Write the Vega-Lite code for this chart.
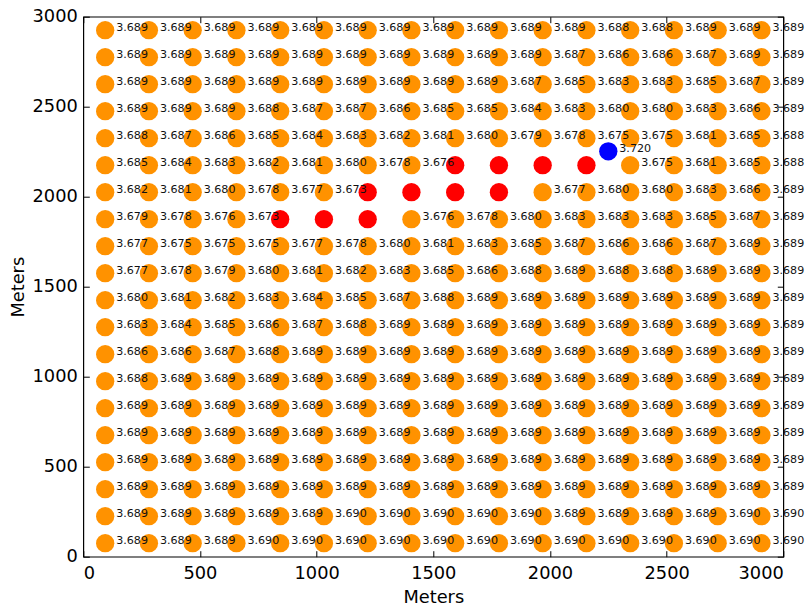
{
"$schema": "https://vega.github.io/schema/vega-lite/v6.json",
"width": 700, "height": 540,
"autosize": {"type": "none"},
"padding": {"left": 83.3, "top": 16.7, "right": 22.7, "bottom": 50.3},
"background": "white",
"config": {
  "view": {"stroke": "#000", "strokeWidth": 1.2},
  "axis": {"labelFont": "DejaVu Sans", "labelFontSize": 17.8, "labelColor": "#000", "tickColor": "#000", "tickSize": -6, "tickWidth": 1, "domain": false, "grid": false, "titleFont": "DejaVu Sans", "titleFontSize": 17.8, "titleFontWeight": "normal", "titleColor": "#000", "format": "d"}
},
"data": {"values": [
{"x":93.75,"y":75,"v":3.689,"c":"o"},{"x":281.25,"y":75,"v":3.689,"c":"o"},{"x":468.75,"y":75,"v":3.689,"c":"o"},{"x":656.25,"y":75,"v":3.690,"c":"o"},{"x":843.75,"y":75,"v":3.690,"c":"o"},{"x":1031.25,"y":75,"v":3.690,"c":"o"},{"x":1218.75,"y":75,"v":3.690,"c":"o"},{"x":1406.25,"y":75,"v":3.690,"c":"o"},{"x":1593.75,"y":75,"v":3.690,"c":"o"},{"x":1781.25,"y":75,"v":3.690,"c":"o"},{"x":1968.75,"y":75,"v":3.690,"c":"o"},{"x":2156.25,"y":75,"v":3.690,"c":"o"},{"x":2343.75,"y":75,"v":3.690,"c":"o"},{"x":2531.25,"y":75,"v":3.690,"c":"o"},{"x":2718.75,"y":75,"v":3.690,"c":"o"},{"x":2906.25,"y":75,"v":3.690,"c":"o"},
{"x":93.75,"y":225,"v":3.689,"c":"o"},{"x":281.25,"y":225,"v":3.689,"c":"o"},{"x":468.75,"y":225,"v":3.689,"c":"o"},{"x":656.25,"y":225,"v":3.689,"c":"o"},{"x":843.75,"y":225,"v":3.689,"c":"o"},{"x":1031.25,"y":225,"v":3.690,"c":"o"},{"x":1218.75,"y":225,"v":3.690,"c":"o"},{"x":1406.25,"y":225,"v":3.690,"c":"o"},{"x":1593.75,"y":225,"v":3.690,"c":"o"},{"x":1781.25,"y":225,"v":3.690,"c":"o"},{"x":1968.75,"y":225,"v":3.689,"c":"o"},{"x":2156.25,"y":225,"v":3.689,"c":"o"},{"x":2343.75,"y":225,"v":3.689,"c":"o"},{"x":2531.25,"y":225,"v":3.689,"c":"o"},{"x":2718.75,"y":225,"v":3.690,"c":"o"},{"x":2906.25,"y":225,"v":3.690,"c":"o"},
{"x":93.75,"y":375,"v":3.689,"c":"o"},{"x":281.25,"y":375,"v":3.689,"c":"o"},{"x":468.75,"y":375,"v":3.689,"c":"o"},{"x":656.25,"y":375,"v":3.689,"c":"o"},{"x":843.75,"y":375,"v":3.689,"c":"o"},{"x":1031.25,"y":375,"v":3.689,"c":"o"},{"x":1218.75,"y":375,"v":3.689,"c":"o"},{"x":1406.25,"y":375,"v":3.689,"c":"o"},{"x":1593.75,"y":375,"v":3.689,"c":"o"},{"x":1781.25,"y":375,"v":3.689,"c":"o"},{"x":1968.75,"y":375,"v":3.689,"c":"o"},{"x":2156.25,"y":375,"v":3.689,"c":"o"},{"x":2343.75,"y":375,"v":3.689,"c":"o"},{"x":2531.25,"y":375,"v":3.689,"c":"o"},{"x":2718.75,"y":375,"v":3.689,"c":"o"},{"x":2906.25,"y":375,"v":3.689,"c":"o"},
{"x":93.75,"y":525,"v":3.689,"c":"o"},{"x":281.25,"y":525,"v":3.689,"c":"o"},{"x":468.75,"y":525,"v":3.689,"c":"o"},{"x":656.25,"y":525,"v":3.689,"c":"o"},{"x":843.75,"y":525,"v":3.689,"c":"o"},{"x":1031.25,"y":525,"v":3.689,"c":"o"},{"x":1218.75,"y":525,"v":3.689,"c":"o"},{"x":1406.25,"y":525,"v":3.689,"c":"o"},{"x":1593.75,"y":525,"v":3.689,"c":"o"},{"x":1781.25,"y":525,"v":3.689,"c":"o"},{"x":1968.75,"y":525,"v":3.689,"c":"o"},{"x":2156.25,"y":525,"v":3.689,"c":"o"},{"x":2343.75,"y":525,"v":3.689,"c":"o"},{"x":2531.25,"y":525,"v":3.689,"c":"o"},{"x":2718.75,"y":525,"v":3.689,"c":"o"},{"x":2906.25,"y":525,"v":3.689,"c":"o"},
{"x":93.75,"y":675,"v":3.689,"c":"o"},{"x":281.25,"y":675,"v":3.689,"c":"o"},{"x":468.75,"y":675,"v":3.689,"c":"o"},{"x":656.25,"y":675,"v":3.689,"c":"o"},{"x":843.75,"y":675,"v":3.689,"c":"o"},{"x":1031.25,"y":675,"v":3.689,"c":"o"},{"x":1218.75,"y":675,"v":3.689,"c":"o"},{"x":1406.25,"y":675,"v":3.689,"c":"o"},{"x":1593.75,"y":675,"v":3.689,"c":"o"},{"x":1781.25,"y":675,"v":3.689,"c":"o"},{"x":1968.75,"y":675,"v":3.689,"c":"o"},{"x":2156.25,"y":675,"v":3.689,"c":"o"},{"x":2343.75,"y":675,"v":3.689,"c":"o"},{"x":2531.25,"y":675,"v":3.689,"c":"o"},{"x":2718.75,"y":675,"v":3.689,"c":"o"},{"x":2906.25,"y":675,"v":3.689,"c":"o"},
{"x":93.75,"y":825,"v":3.689,"c":"o"},{"x":281.25,"y":825,"v":3.689,"c":"o"},{"x":468.75,"y":825,"v":3.689,"c":"o"},{"x":656.25,"y":825,"v":3.689,"c":"o"},{"x":843.75,"y":825,"v":3.689,"c":"o"},{"x":1031.25,"y":825,"v":3.689,"c":"o"},{"x":1218.75,"y":825,"v":3.689,"c":"o"},{"x":1406.25,"y":825,"v":3.689,"c":"o"},{"x":1593.75,"y":825,"v":3.689,"c":"o"},{"x":1781.25,"y":825,"v":3.689,"c":"o"},{"x":1968.75,"y":825,"v":3.689,"c":"o"},{"x":2156.25,"y":825,"v":3.689,"c":"o"},{"x":2343.75,"y":825,"v":3.689,"c":"o"},{"x":2531.25,"y":825,"v":3.689,"c":"o"},{"x":2718.75,"y":825,"v":3.689,"c":"o"},{"x":2906.25,"y":825,"v":3.689,"c":"o"},
{"x":93.75,"y":975,"v":3.688,"c":"o"},{"x":281.25,"y":975,"v":3.689,"c":"o"},{"x":468.75,"y":975,"v":3.689,"c":"o"},{"x":656.25,"y":975,"v":3.689,"c":"o"},{"x":843.75,"y":975,"v":3.689,"c":"o"},{"x":1031.25,"y":975,"v":3.689,"c":"o"},{"x":1218.75,"y":975,"v":3.689,"c":"o"},{"x":1406.25,"y":975,"v":3.689,"c":"o"},{"x":1593.75,"y":975,"v":3.689,"c":"o"},{"x":1781.25,"y":975,"v":3.689,"c":"o"},{"x":1968.75,"y":975,"v":3.689,"c":"o"},{"x":2156.25,"y":975,"v":3.689,"c":"o"},{"x":2343.75,"y":975,"v":3.689,"c":"o"},{"x":2531.25,"y":975,"v":3.689,"c":"o"},{"x":2718.75,"y":975,"v":3.689,"c":"o"},{"x":2906.25,"y":975,"v":3.689,"c":"o"},
{"x":93.75,"y":1125,"v":3.686,"c":"o"},{"x":281.25,"y":1125,"v":3.686,"c":"o"},{"x":468.75,"y":1125,"v":3.687,"c":"o"},{"x":656.25,"y":1125,"v":3.688,"c":"o"},{"x":843.75,"y":1125,"v":3.689,"c":"o"},{"x":1031.25,"y":1125,"v":3.689,"c":"o"},{"x":1218.75,"y":1125,"v":3.689,"c":"o"},{"x":1406.25,"y":1125,"v":3.689,"c":"o"},{"x":1593.75,"y":1125,"v":3.689,"c":"o"},{"x":1781.25,"y":1125,"v":3.689,"c":"o"},{"x":1968.75,"y":1125,"v":3.689,"c":"o"},{"x":2156.25,"y":1125,"v":3.689,"c":"o"},{"x":2343.75,"y":1125,"v":3.689,"c":"o"},{"x":2531.25,"y":1125,"v":3.689,"c":"o"},{"x":2718.75,"y":1125,"v":3.689,"c":"o"},{"x":2906.25,"y":1125,"v":3.689,"c":"o"},
{"x":93.75,"y":1275,"v":3.683,"c":"o"},{"x":281.25,"y":1275,"v":3.684,"c":"o"},{"x":468.75,"y":1275,"v":3.685,"c":"o"},{"x":656.25,"y":1275,"v":3.686,"c":"o"},{"x":843.75,"y":1275,"v":3.687,"c":"o"},{"x":1031.25,"y":1275,"v":3.688,"c":"o"},{"x":1218.75,"y":1275,"v":3.689,"c":"o"},{"x":1406.25,"y":1275,"v":3.689,"c":"o"},{"x":1593.75,"y":1275,"v":3.689,"c":"o"},{"x":1781.25,"y":1275,"v":3.689,"c":"o"},{"x":1968.75,"y":1275,"v":3.689,"c":"o"},{"x":2156.25,"y":1275,"v":3.689,"c":"o"},{"x":2343.75,"y":1275,"v":3.689,"c":"o"},{"x":2531.25,"y":1275,"v":3.689,"c":"o"},{"x":2718.75,"y":1275,"v":3.689,"c":"o"},{"x":2906.25,"y":1275,"v":3.689,"c":"o"},
{"x":93.75,"y":1425,"v":3.680,"c":"o"},{"x":281.25,"y":1425,"v":3.681,"c":"o"},{"x":468.75,"y":1425,"v":3.682,"c":"o"},{"x":656.25,"y":1425,"v":3.683,"c":"o"},{"x":843.75,"y":1425,"v":3.684,"c":"o"},{"x":1031.25,"y":1425,"v":3.685,"c":"o"},{"x":1218.75,"y":1425,"v":3.687,"c":"o"},{"x":1406.25,"y":1425,"v":3.688,"c":"o"},{"x":1593.75,"y":1425,"v":3.689,"c":"o"},{"x":1781.25,"y":1425,"v":3.689,"c":"o"},{"x":1968.75,"y":1425,"v":3.689,"c":"o"},{"x":2156.25,"y":1425,"v":3.689,"c":"o"},{"x":2343.75,"y":1425,"v":3.689,"c":"o"},{"x":2531.25,"y":1425,"v":3.689,"c":"o"},{"x":2718.75,"y":1425,"v":3.689,"c":"o"},{"x":2906.25,"y":1425,"v":3.689,"c":"o"},
{"x":93.75,"y":1575,"v":3.677,"c":"o"},{"x":281.25,"y":1575,"v":3.678,"c":"o"},{"x":468.75,"y":1575,"v":3.679,"c":"o"},{"x":656.25,"y":1575,"v":3.680,"c":"o"},{"x":843.75,"y":1575,"v":3.681,"c":"o"},{"x":1031.25,"y":1575,"v":3.682,"c":"o"},{"x":1218.75,"y":1575,"v":3.683,"c":"o"},{"x":1406.25,"y":1575,"v":3.685,"c":"o"},{"x":1593.75,"y":1575,"v":3.686,"c":"o"},{"x":1781.25,"y":1575,"v":3.688,"c":"o"},{"x":1968.75,"y":1575,"v":3.689,"c":"o"},{"x":2156.25,"y":1575,"v":3.688,"c":"o"},{"x":2343.75,"y":1575,"v":3.688,"c":"o"},{"x":2531.25,"y":1575,"v":3.689,"c":"o"},{"x":2718.75,"y":1575,"v":3.689,"c":"o"},{"x":2906.25,"y":1575,"v":3.689,"c":"o"},
{"x":93.75,"y":1725,"v":3.677,"c":"o"},{"x":281.25,"y":1725,"v":3.675,"c":"o"},{"x":468.75,"y":1725,"v":3.675,"c":"o"},{"x":656.25,"y":1725,"v":3.675,"c":"o"},{"x":843.75,"y":1725,"v":3.677,"c":"o"},{"x":1031.25,"y":1725,"v":3.678,"c":"o"},{"x":1218.75,"y":1725,"v":3.680,"c":"o"},{"x":1406.25,"y":1725,"v":3.681,"c":"o"},{"x":1593.75,"y":1725,"v":3.683,"c":"o"},{"x":1781.25,"y":1725,"v":3.685,"c":"o"},{"x":1968.75,"y":1725,"v":3.687,"c":"o"},{"x":2156.25,"y":1725,"v":3.686,"c":"o"},{"x":2343.75,"y":1725,"v":3.686,"c":"o"},{"x":2531.25,"y":1725,"v":3.687,"c":"o"},{"x":2718.75,"y":1725,"v":3.689,"c":"o"},{"x":2906.25,"y":1725,"v":3.689,"c":"o"},
{"x":93.75,"y":1875,"v":3.679,"c":"o"},{"x":281.25,"y":1875,"v":3.678,"c":"o"},{"x":468.75,"y":1875,"v":3.676,"c":"o"},{"x":656.25,"y":1875,"v":3.673,"c":"o"},{"x":843.75,"y":1875,"v":null,"c":"r"},{"x":1031.25,"y":1875,"v":null,"c":"r"},{"x":1218.75,"y":1875,"v":null,"c":"r"},{"x":1406.25,"y":1875,"v":3.676,"c":"o"},{"x":1593.75,"y":1875,"v":3.678,"c":"o"},{"x":1781.25,"y":1875,"v":3.680,"c":"o"},{"x":1968.75,"y":1875,"v":3.683,"c":"o"},{"x":2156.25,"y":1875,"v":3.683,"c":"o"},{"x":2343.75,"y":1875,"v":3.683,"c":"o"},{"x":2531.25,"y":1875,"v":3.685,"c":"o"},{"x":2718.75,"y":1875,"v":3.687,"c":"o"},{"x":2906.25,"y":1875,"v":3.689,"c":"o"},
{"x":93.75,"y":2025,"v":3.682,"c":"o"},{"x":281.25,"y":2025,"v":3.681,"c":"o"},{"x":468.75,"y":2025,"v":3.680,"c":"o"},{"x":656.25,"y":2025,"v":3.678,"c":"o"},{"x":843.75,"y":2025,"v":3.677,"c":"o"},{"x":1031.25,"y":2025,"v":3.673,"c":"o"},{"x":1218.75,"y":2025,"v":null,"c":"r"},{"x":1406.25,"y":2025,"v":null,"c":"r"},{"x":1593.75,"y":2025,"v":null,"c":"r"},{"x":1781.25,"y":2025,"v":null,"c":"r"},{"x":1968.75,"y":2025,"v":3.677,"c":"o"},{"x":2156.25,"y":2025,"v":3.680,"c":"o"},{"x":2343.75,"y":2025,"v":3.680,"c":"o"},{"x":2531.25,"y":2025,"v":3.683,"c":"o"},{"x":2718.75,"y":2025,"v":3.686,"c":"o"},{"x":2906.25,"y":2025,"v":3.689,"c":"o"},
{"x":93.75,"y":2175,"v":3.685,"c":"o"},{"x":281.25,"y":2175,"v":3.684,"c":"o"},{"x":468.75,"y":2175,"v":3.683,"c":"o"},{"x":656.25,"y":2175,"v":3.682,"c":"o"},{"x":843.75,"y":2175,"v":3.681,"c":"o"},{"x":1031.25,"y":2175,"v":3.680,"c":"o"},{"x":1218.75,"y":2175,"v":3.678,"c":"o"},{"x":1406.25,"y":2175,"v":3.676,"c":"o"},{"x":1593.75,"y":2175,"v":null,"c":"r"},{"x":1781.25,"y":2175,"v":null,"c":"r"},{"x":1968.75,"y":2175,"v":null,"c":"r"},{"x":2156.25,"y":2175,"v":null,"c":"r"},{"x":2343.75,"y":2175,"v":3.675,"c":"o"},{"x":2531.25,"y":2175,"v":3.681,"c":"o"},{"x":2718.75,"y":2175,"v":3.685,"c":"o"},{"x":2906.25,"y":2175,"v":3.688,"c":"o"},
{"x":93.75,"y":2325,"v":3.688,"c":"o"},{"x":281.25,"y":2325,"v":3.687,"c":"o"},{"x":468.75,"y":2325,"v":3.686,"c":"o"},{"x":656.25,"y":2325,"v":3.685,"c":"o"},{"x":843.75,"y":2325,"v":3.684,"c":"o"},{"x":1031.25,"y":2325,"v":3.683,"c":"o"},{"x":1218.75,"y":2325,"v":3.682,"c":"o"},{"x":1406.25,"y":2325,"v":3.681,"c":"o"},{"x":1593.75,"y":2325,"v":3.680,"c":"o"},{"x":1781.25,"y":2325,"v":3.679,"c":"o"},{"x":1968.75,"y":2325,"v":3.678,"c":"o"},{"x":2156.25,"y":2325,"v":3.675,"c":"o"},{"x":2343.75,"y":2325,"v":3.675,"c":"o"},{"x":2531.25,"y":2325,"v":3.681,"c":"o"},{"x":2718.75,"y":2325,"v":3.685,"c":"o"},{"x":2906.25,"y":2325,"v":3.688,"c":"o"},
{"x":93.75,"y":2475,"v":3.689,"c":"o"},{"x":281.25,"y":2475,"v":3.689,"c":"o"},{"x":468.75,"y":2475,"v":3.689,"c":"o"},{"x":656.25,"y":2475,"v":3.688,"c":"o"},{"x":843.75,"y":2475,"v":3.687,"c":"o"},{"x":1031.25,"y":2475,"v":3.687,"c":"o"},{"x":1218.75,"y":2475,"v":3.686,"c":"o"},{"x":1406.25,"y":2475,"v":3.685,"c":"o"},{"x":1593.75,"y":2475,"v":3.685,"c":"o"},{"x":1781.25,"y":2475,"v":3.684,"c":"o"},{"x":1968.75,"y":2475,"v":3.683,"c":"o"},{"x":2156.25,"y":2475,"v":3.680,"c":"o"},{"x":2343.75,"y":2475,"v":3.680,"c":"o"},{"x":2531.25,"y":2475,"v":3.683,"c":"o"},{"x":2718.75,"y":2475,"v":3.686,"c":"o"},{"x":2906.25,"y":2475,"v":3.689,"c":"o"},
{"x":93.75,"y":2625,"v":3.689,"c":"o"},{"x":281.25,"y":2625,"v":3.689,"c":"o"},{"x":468.75,"y":2625,"v":3.689,"c":"o"},{"x":656.25,"y":2625,"v":3.689,"c":"o"},{"x":843.75,"y":2625,"v":3.689,"c":"o"},{"x":1031.25,"y":2625,"v":3.689,"c":"o"},{"x":1218.75,"y":2625,"v":3.689,"c":"o"},{"x":1406.25,"y":2625,"v":3.689,"c":"o"},{"x":1593.75,"y":2625,"v":3.689,"c":"o"},{"x":1781.25,"y":2625,"v":3.687,"c":"o"},{"x":1968.75,"y":2625,"v":3.685,"c":"o"},{"x":2156.25,"y":2625,"v":3.683,"c":"o"},{"x":2343.75,"y":2625,"v":3.683,"c":"o"},{"x":2531.25,"y":2625,"v":3.685,"c":"o"},{"x":2718.75,"y":2625,"v":3.687,"c":"o"},{"x":2906.25,"y":2625,"v":3.689,"c":"o"},
{"x":93.75,"y":2775,"v":3.689,"c":"o"},{"x":281.25,"y":2775,"v":3.689,"c":"o"},{"x":468.75,"y":2775,"v":3.689,"c":"o"},{"x":656.25,"y":2775,"v":3.689,"c":"o"},{"x":843.75,"y":2775,"v":3.689,"c":"o"},{"x":1031.25,"y":2775,"v":3.689,"c":"o"},{"x":1218.75,"y":2775,"v":3.689,"c":"o"},{"x":1406.25,"y":2775,"v":3.689,"c":"o"},{"x":1593.75,"y":2775,"v":3.689,"c":"o"},{"x":1781.25,"y":2775,"v":3.689,"c":"o"},{"x":1968.75,"y":2775,"v":3.687,"c":"o"},{"x":2156.25,"y":2775,"v":3.686,"c":"o"},{"x":2343.75,"y":2775,"v":3.686,"c":"o"},{"x":2531.25,"y":2775,"v":3.687,"c":"o"},{"x":2718.75,"y":2775,"v":3.689,"c":"o"},{"x":2906.25,"y":2775,"v":3.689,"c":"o"},
{"x":93.75,"y":2925,"v":3.689,"c":"o"},{"x":281.25,"y":2925,"v":3.689,"c":"o"},{"x":468.75,"y":2925,"v":3.689,"c":"o"},{"x":656.25,"y":2925,"v":3.689,"c":"o"},{"x":843.75,"y":2925,"v":3.689,"c":"o"},{"x":1031.25,"y":2925,"v":3.689,"c":"o"},{"x":1218.75,"y":2925,"v":3.689,"c":"o"},{"x":1406.25,"y":2925,"v":3.689,"c":"o"},{"x":1593.75,"y":2925,"v":3.689,"c":"o"},{"x":1781.25,"y":2925,"v":3.689,"c":"o"},{"x":1968.75,"y":2925,"v":3.689,"c":"o"},{"x":2156.25,"y":2925,"v":3.688,"c":"o"},{"x":2343.75,"y":2925,"v":3.688,"c":"o"},{"x":2531.25,"y":2925,"v":3.689,"c":"o"},{"x":2718.75,"y":2925,"v":3.689,"c":"o"},{"x":2906.25,"y":2925,"v":3.689,"c":"o"},
{"x":2250,"y":2252,"v":3.720,"c":"b"}
]},
"layer": [
  {
    "mark": {"type": "circle", "size": 336, "opacity": 1, "strokeWidth": 0},
    "encoding": {
      "x": {"field": "x", "type": "quantitative", "scale": {"domain": [0, 3000], "nice": false, "zero": false},
            "axis": {"orient": "bottom", "values": [0,500,1000,1500,2000,2500,3000], "labelPadding": 14, "title": "Meters", "titlePadding": 6}},
      "y": {"field": "y", "type": "quantitative", "scale": {"domain": [0, 3000], "nice": false, "zero": false},
            "axis": {"orient": "left", "values": [0,500,1000,1500,2000,2500,3000], "labelPadding": 12, "title": "Meters", "titlePadding": 5}},
      "color": {"field": "c", "type": "nominal", "scale": {"domain": ["o", "r", "b"], "range": ["#FF9200", "#FF0000", "#0000FF"]}, "legend": null}
    }
  },
  {
    "transform": [{"filter": "datum.v != null"}],
    "mark": {"type": "text", "align": "left", "baseline": "alphabetic", "dx": 11, "dy": 1, "font": "DejaVu Sans", "fontSize": 11.1, "color": "#111"},
    "encoding": {
      "x": {"field": "x", "type": "quantitative", "axis": {"orient": "top", "values": [0,500,1000,1500,2000,2500,3000], "labels": false, "title": null}},
      "y": {"field": "y", "type": "quantitative", "axis": {"orient": "right", "values": [0,500,1000,1500,2000,2500,3000], "labels": false, "title": null}},
      "text": {"field": "v", "type": "quantitative", "format": ".3f"}
    }
  }
],
"resolve": {"axis": {"x": "independent", "y": "independent"}}
}
